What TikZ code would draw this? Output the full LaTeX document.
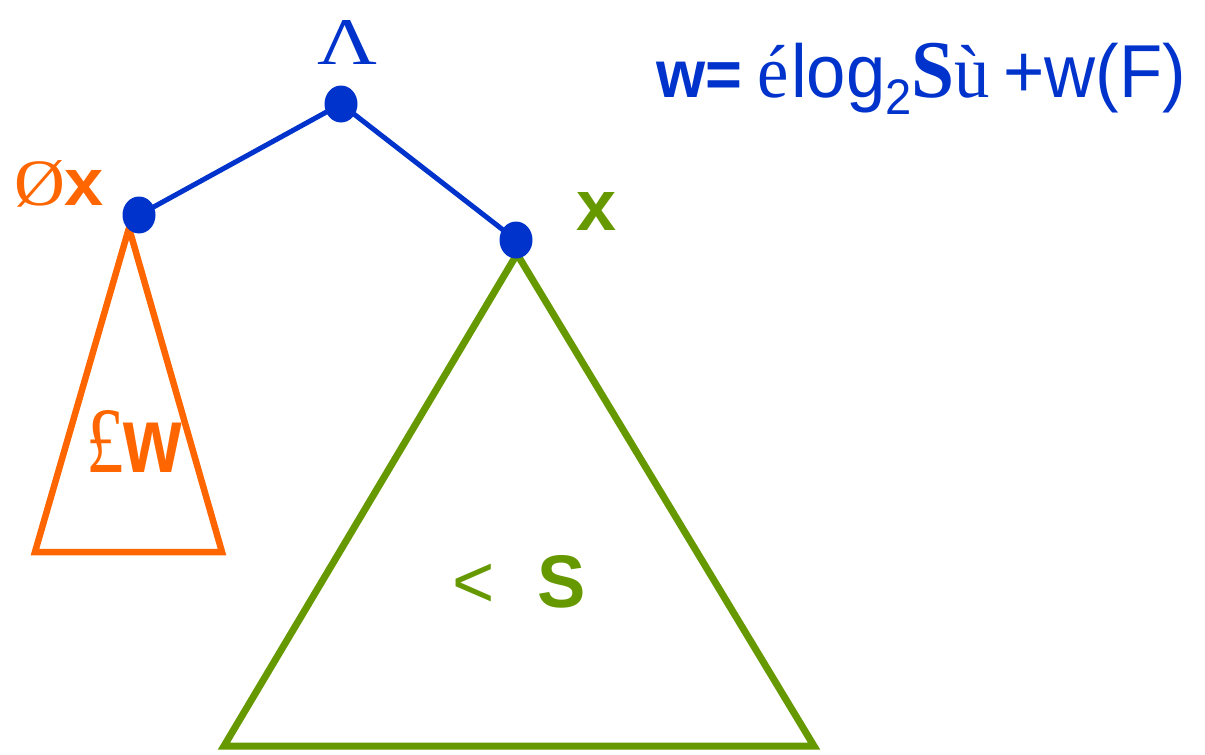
\documentclass[tikz,border=0pt]{standalone}
\usepackage{fontspec}
\setmainfont{Liberation Serif}
\setsansfont{Liberation Sans}
\usetikzlibrary{shapes.geometric}
\definecolor{tblue}{HTML}{0033CC}
\definecolor{torange}{HTML}{FF6600}
\definecolor{tgreen}{HTML}{669900}
\newcommand{\fsz}[1]{\fontsize{#1}{#1}\selectfont}
\tikzset{
  dotnode/.style={ellipse, fill=tblue, draw=none, minimum width=33pt, minimum height=37pt, inner sep=0pt},
  edgeline/.style={draw=tblue, line width=5pt},
  lbl/.style={anchor=base west, inner sep=0pt, outer sep=0pt},
}
\begin{document}
\begin{tikzpicture}[x=1pt,y=-1pt]
\useasboundingbox (0,0) rectangle (1205,755);
% triangles
\coordinate (oa) at (129,228);
\coordinate (ol) at (35,552);
\coordinate (or) at (222,552);
\draw[torange, line width=6.5pt] (oa) -- (ol) -- (or) -- cycle;
\coordinate (ga) at (517,254);
\coordinate (gl) at (224,746);
\coordinate (gr) at (814,746);
\draw[tgreen, line width=7pt] (ga) -- (gl) -- (gr) -- cycle;
% tree
\node[dotnode] (root) at (341,104) {};
\node[dotnode] (left) at (139,215) {};
\node[dotnode] (right) at (516,240) {};
\draw[edgeline] (root.center) -- (left.center);
\draw[edgeline] (root.center) -- (right.center);
% labels
\node[lbl, text=tblue] (lam) at (317,64) {\resizebox{60pt}{44pt}{\rmfamily Λ}};
\node[lbl, text=torange] (notx) at (14,205) {\resizebox{90pt}{45pt}{\rmfamily Ø\sffamily\bfseries x}};
\node[lbl, text=tgreen] (xr) at (576,230) {\resizebox{40pt}{38pt}{\sffamily\bfseries x}};
\node[lbl, text=torange] (lw) at (86,472) {\resizebox{96pt}{62pt}{\rmfamily £\sffamily\bfseries w}};
\node[lbl, text=tgreen] (ls) at (452,607) {\resizebox{134pt}{52pt}{\sffamily <\hspace{0.6em}\bfseries S}};
\node[lbl, text=tblue] (formula) at (656,97) {\resizebox{530pt}{\height}{%
  {\fsz{67}\sffamily\bfseries w=}\hspace{16pt}%
  {\fsz{75}\rmfamily é}\hspace{3pt}%
  {\fsz{75}\sffamily log}%
  \raisebox{-17pt}{\fsz{50}\sffamily 2}%
  {\fsz{82}\rmfamily\bfseries S}%
  {\fsz{75}\rmfamily ù}\hspace{14pt}%
  {\fsz{75}\sffamily +w(F)}}};
\end{tikzpicture}
\end{document}
